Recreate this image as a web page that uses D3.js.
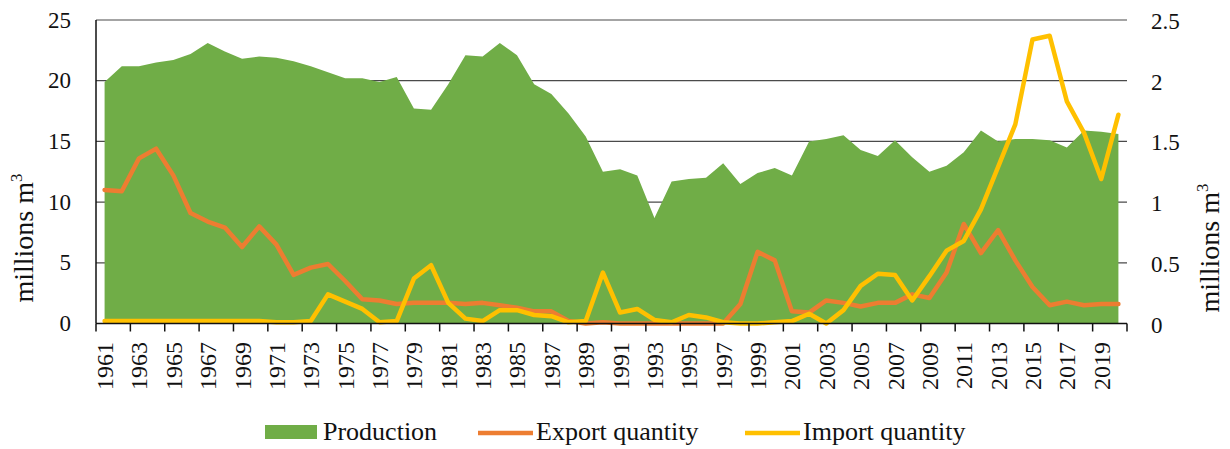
<!DOCTYPE html>
<html>
<head>
<meta charset="utf-8">
<script src="https://cdn.jsdelivr.net/npm/d3@7"></script>
<style>
    body { margin: 0; background: #fff; }
    svg text { font-family: "Liberation Serif", "Times New Roman", serif; fill: #111; }
</style>
</head>
<body>
<svg id="chart" width="1230" height="449"></svg>
<script>
// Years 1961..2020
var years = d3.range(1961, 2021);

// Production, millions m3 (left axis)
var production = [
    19.9, 21.2, 21.2, 21.5, 21.7, 22.2, 23.1, 22.4, 21.8, 22.0,
    21.9, 21.6, 21.2, 20.7, 20.2, 20.2, 19.9, 20.3, 17.7, 17.6,
    19.7, 22.1, 22.0, 23.1, 22.1, 19.7, 18.9, 17.3, 15.4, 12.5,
    12.7, 12.2, 8.7, 11.7, 11.9, 12.0, 13.2, 11.5, 12.4, 12.8,
    12.2, 15.0, 15.2, 15.5, 14.3, 13.8, 15.1, 13.7, 12.5, 13.0,
    14.1, 15.9, 15.0, 15.2, 15.2, 15.1, 14.5, 15.9, 15.8, 15.6
];

// Export quantity, millions m3 (right axis)
var exportQty = [
    1.10, 1.09, 1.36, 1.44, 1.22, 0.91, 0.84, 0.79, 0.63, 0.80,
    0.65, 0.40, 0.46, 0.49, 0.35, 0.20, 0.19, 0.16, 0.17, 0.17,
    0.17, 0.16, 0.17, 0.15, 0.13, 0.10, 0.10, 0.02, 0.00, 0.01,
    0.00, 0.00, 0.00, 0.00, 0.00, 0.00, 0.00, 0.16, 0.59, 0.52,
    0.10, 0.09, 0.19, 0.17, 0.14, 0.17, 0.17, 0.24, 0.21, 0.42,
    0.82, 0.58, 0.77, 0.52, 0.30, 0.15, 0.18, 0.15, 0.16, 0.16
];

// Import quantity, millions m3 (right axis)
var importQty = [
    0.02, 0.02, 0.02, 0.02, 0.02, 0.02, 0.02, 0.02, 0.02, 0.02,
    0.01, 0.01, 0.02, 0.24, 0.18, 0.12, 0.01, 0.02, 0.37, 0.48,
    0.17, 0.04, 0.02, 0.11, 0.11, 0.07, 0.06, 0.01, 0.02, 0.42,
    0.09, 0.12, 0.03, 0.01, 0.07, 0.05, 0.01, 0.00, 0.00, 0.01,
    0.02, 0.08, 0.00, 0.11, 0.31, 0.41, 0.40, 0.19, 0.39, 0.60,
    0.68, 0.94, 1.29, 1.64, 2.34, 2.37, 1.83, 1.57, 1.19, 1.72
];

var leftTicks = [0, 5, 10, 15, 20, 25];
var rightTicks = [0, 0.5, 1, 1.5, 2, 2.5];
var rightTickLabels = ["0", "0.5", "1", "1.5", "2", "2.5"];

var legendItems = [
    { name: "Production", type: "area", color: "#70ad47" },
    { name: "Export quantity", type: "line", color: "#ed7d31" },
    { name: "Import quantity", type: "line", color: "#ffc000" }
];

var svg = d3.select("#chart");

var plot = { left: 96, right: 1127, top: 20, bottom: 323.5 };

var x = d3.scaleBand().domain(years).range([plot.left, plot.right]);
var cx = function (yr) { return x(yr) + x.bandwidth() / 2; };
var yLeft = d3.scaleLinear().domain([0, 25]).range([plot.bottom, plot.top]);
var yRight = d3.scaleLinear().domain([0, 2.5]).range([plot.bottom, plot.top]);

// Gridlines (drawn first, the area covers most of them)
svg.append("g").attr("class", "grid")
    .selectAll("line").data(leftTicks.slice(1)).enter().append("line")
    .attr("x1", plot.left).attr("x2", plot.right)
    .attr("y1", function (d) { return yLeft(d); })
    .attr("y2", function (d) { return yLeft(d); })
    .attr("stroke", "#4a4a4a").attr("stroke-width", 1.2);

// Production area
var area = d3.area()
    .x(function (d, i) { return cx(years[i]); })
    .y0(yLeft(0))
    .y1(function (d) { return yLeft(d); });

svg.append("path").datum(production)
    .attr("d", area)
    .attr("fill", "#70ad47");

// Export and import lines
function drawLine(values, color) {
    var line = d3.line()
        .x(function (d, i) { return cx(years[i]); })
        .y(function (d) { return yRight(d); });
    return svg.append("path").datum(values)
        .attr("d", line)
        .attr("fill", "none")
        .attr("stroke", color)
        .attr("stroke-width", 4.5)
        .attr("stroke-linejoin", "round")
        .attr("stroke-linecap", "round");
}
drawLine(exportQty, "#ed7d31");
drawLine(importQty, "#ffc000");

// Left axis: line and labels
svg.append("line")
    .attr("x1", plot.left).attr("x2", plot.left)
    .attr("y1", plot.top).attr("y2", plot.bottom)
    .attr("stroke", "#111").attr("stroke-width", 1.5);

svg.append("g").selectAll("text").data(leftTicks).enter().append("text")
    .attr("x", 71)
    .attr("y", function (d) { return yLeft(d); })
    .attr("dy", "0.33em")
    .attr("text-anchor", "end")
    .style("font-size", "23px")
    .text(function (d) { return d; });

// Right axis labels (no line)
svg.append("g").selectAll("text").data(rightTicks).enter().append("text")
    .attr("x", 1151)
    .attr("y", function (d) { return yRight(d) + 1.5; })
    .attr("dy", "0.33em")
    .attr("text-anchor", "start")
    .style("font-size", "23px")
    .text(function (d, i) { return rightTickLabels[i]; });

// X axis: line, ticks every two categories, rotated year labels
svg.append("line")
    .attr("x1", plot.left).attr("x2", plot.right)
    .attr("y1", plot.bottom).attr("y2", plot.bottom)
    .attr("stroke", "#111").attr("stroke-width", 1.5);

var tickX = years.filter(function (d, i) { return i % 2 === 0; }).map(function (d) { return x(d); });
tickX.push(plot.right);
svg.append("g").selectAll("line").data(tickX).enter().append("line")
    .attr("x1", function (d) { return d; }).attr("x2", function (d) { return d; })
    .attr("y1", plot.bottom).attr("y2", plot.bottom + 8)
    .attr("stroke", "#111").attr("stroke-width", 1.5);

var labelYears = years.filter(function (d, i) { return i % 2 === 0; });
svg.append("g").selectAll("text").data(labelYears).enter().append("text")
    .attr("transform", function (d) { return "translate(" + (cx(d) + 8.5) + ",342) rotate(-90)"; })
    .attr("text-anchor", "end")
    .style("font-size", "24px")
    .text(function (d) { return d; });

// Axis titles: millions m3, with superscript
function axisTitle(tx, ty) {
    var t = svg.append("text")
        .attr("transform", "translate(" + tx + "," + ty + ") rotate(-90)")
        .attr("text-anchor", "middle")
        .style("font-size", "28px");
    t.append("tspan").text("millions m");
    t.append("tspan").attr("dy", -11).style("font-size", "17px").text("3");
}
axisTitle(33, 238);
axisTitle(1219, 248);

// Legend
var legend = svg.append("g").attr("class", "legend");
var legendPos = [265, 478, 745];
legendItems.forEach(function (item, i) {
    var g = legend.append("g").attr("transform", "translate(" + legendPos[i] + ",0)");
    if (item.type === "area") {
        g.append("rect").attr("x", 0).attr("y", 425).attr("width", 52).attr("height", 14)
            .attr("fill", item.color);
    } else {
        g.append("line").attr("x1", 0).attr("x2", 55).attr("y1", 433).attr("y2", 433)
            .attr("stroke", item.color).attr("stroke-width", 4.5);
    }
    g.append("text")
        .attr("x", item.type === "area" ? 58 : 58)
        .attr("y", 440)
        .style("font-size", "26px")
        .text(item.name);
});
</script>
</body>
</html>
